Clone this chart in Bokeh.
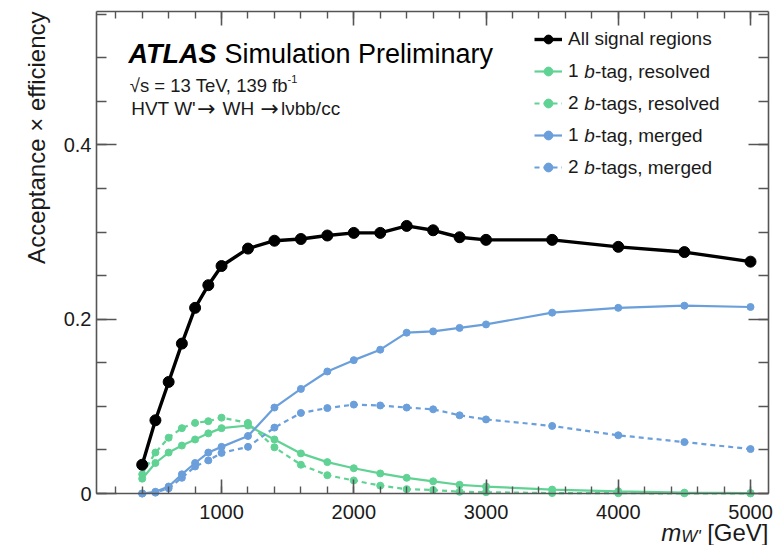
import math

from bokeh.plotting import figure
from bokeh.models import (Range1d, LinearAxis, SingleIntervalTicker, CustomJSTickFormatter,
                          Label, Legend, LegendItem)
from bokeh.embed import file_html
from bokeh.resources import INLINE

# W' mass points [GeV]
mass = [400, 500, 600, 700, 800, 900, 1000, 1200, 1400, 1600, 1800, 2000,
        2200, 2400, 2600, 2800, 3000, 3500, 4000, 4500, 5000]

# acceptance x efficiency per signal region
all_regions = [0.033, 0.084, 0.128, 0.172, 0.213, 0.239, 0.261, 0.281, 0.290, 0.292, 0.296,
               0.299, 0.299, 0.307, 0.302, 0.294, 0.291, 0.291, 0.283, 0.277, 0.266]
one_tag_resolved = [0.017, 0.035, 0.047, 0.055, 0.062, 0.069, 0.075, 0.078, 0.062, 0.046, 0.036,
                    0.029, 0.023, 0.018, 0.014, 0.010, 0.008, 0.0045, 0.0025, 0.001, 0.0005]
two_tag_resolved = [0.022, 0.047, 0.064, 0.075, 0.081, 0.083, 0.087, 0.081, 0.053, 0.033, 0.021,
                    0.015, 0.009, 0.005, 0.004, 0.002, 0.0015, 0.0005, 0.0003, 0.0002, 0.0001]
one_tag_merged = [0.0, 0.002, 0.008, 0.022, 0.035, 0.047, 0.0535, 0.066, 0.0986, 0.120, 0.140,
                  0.153, 0.165, 0.1845, 0.186, 0.190, 0.194, 0.2075, 0.213, 0.2155, 0.214]
two_tag_merged = [0.0, 0.001, 0.006, 0.018, 0.031, 0.038, 0.0466, 0.0535, 0.0756, 0.0924, 0.098,
                  0.102, 0.101, 0.0986, 0.0966, 0.0897, 0.085, 0.0775, 0.0668, 0.059, 0.051]

# axis extents in data units
X_MIN, X_MAX = 54.4, 5136.0
Y_MIN, Y_MAX = 0.0, 0.553

# canvas and the pixel box of the axes inside it
W, H = 775, 545
BOX_L, BOX_R, BOX_T, BOX_B = 96, 768, 11, 493

FONT = "Liberation Sans"
ARROW_FONT = "DejaVu Sans"
GREEN = "#60d394"
BLUE = "#6a9fdb"
AXIS = "#555555"
TEXT = "#1a1a1a"

# the plotting frame spans the whole canvas; axes sit at fixed data locations
xs = (BOX_R - BOX_L) / (X_MAX - X_MIN)
ys = (BOX_B - BOX_T) / (Y_MAX - Y_MIN)
x_range = Range1d(X_MIN - BOX_L / xs, X_MAX + (W - BOX_R) / xs)
y_range = Range1d(Y_MIN - (H - BOX_B) / ys, Y_MAX + BOX_T / ys)

p = figure(width=W, height=H, output_backend="svg", toolbar_location=None,
           x_range=x_range, y_range=y_range, x_axis_type=None, y_axis_type=None,
           min_border=0)
p.outline_line_color = None
p.background_fill_color = "white"
p.border_fill_color = "white"


def axis(kind, location, labelled):
    if kind == "x":
        ticker = SingleIntervalTicker(interval=1000, num_minor_ticks=5)
        fmt = CustomJSTickFormatter(code="return tick.toFixed(0);")
        major, minor = 14, 7
        bounds = (X_MIN, X_MAX)
    else:
        ticker = SingleIntervalTicker(interval=0.2, num_minor_ticks=4)
        fmt = CustomJSTickFormatter(code="return tick == 0 ? '0' : tick.toFixed(1);")
        major, minor = 20, 10
        bounds = (Y_MIN, Y_MAX)
    if not labelled:
        fmt = CustomJSTickFormatter(code="return '';")
    ax = LinearAxis(ticker=ticker, formatter=fmt, fixed_location=location, bounds=bounds,
                    axis_line_color=AXIS, axis_line_width=1.6,
                    major_tick_line_color=AXIS, minor_tick_line_color=AXIS,
                    major_tick_line_width=1.6, minor_tick_line_width=1.4,
                    major_tick_in=major, major_tick_out=0,
                    minor_tick_in=minor, minor_tick_out=0,
                    major_label_text_font=FONT, major_label_text_color=TEXT,
                    major_label_text_font_size="20px",
                    major_label_standoff=(11 if kind == "x" else 5))
    return ax


p.add_layout(axis("x", Y_MIN, True), "below")
p.add_layout(axis("y", X_MIN, True), "left")
p.add_layout(axis("x", Y_MAX, False), "above")
p.add_layout(axis("y", X_MAX, False), "right")

series = [
    ("1 b-tag, resolved", one_tag_resolved, GREEN, "solid"),
    ("2 b-tags, resolved", two_tag_resolved, GREEN, "5 4"),
    ("1 b-tag, merged", one_tag_merged, BLUE, "solid"),
    ("2 b-tags, merged", two_tag_merged, BLUE, "5 4"),
]
renderers = {}
for name, vals, col, dash in series:
    ln = p.line(mass, vals, line_color=col, line_width=2.2, line_dash=dash)
    sc = p.scatter(mass, vals, marker="circle", size=7, fill_color=col, line_color=col)
    renderers[name] = [ln, sc]

bl = p.line(mass, all_regions, line_color="black", line_width=3.4)
bs = p.scatter(mass, all_regions, marker="circle", size=11, fill_color="black", line_color="black")
renderers["All signal regions"] = [bl, bs]


def sy(y_px):
    """canvas pixel row (from top) -> frame screen units (from bottom)"""
    return H - y_px


# legend: the leading word comes from the legend, the rest is added beside it
entries = [("All signal regions", "All signal regions", None),
           ("1 b-tag, resolved", "1", "-tag, resolved"),
           ("2 b-tags, resolved", "2", "-tags, resolved"),
           ("1 b-tag, merged", "1", "-tag, merged"),
           ("2 b-tags, merged", "2", "-tags, merged")]
LEG_X, LEG_TOP, ROW_H, ROW_GAP = 534, 27.5, 22, 10
n_rows = len(entries)
leg_height = n_rows * ROW_H + (n_rows - 1) * ROW_GAP
legend = Legend(items=[LegendItem(label=lead, renderers=renderers[key]) for key, lead, _ in entries],
                location=(LEG_X, sy(LEG_TOP + leg_height)), orientation="vertical",
                glyph_width=28, glyph_height=ROW_H, label_height=ROW_H,
                label_standoff=6, spacing=ROW_GAP, padding=0, margin=0,
                label_text_font=FONT, label_text_font_size="19px", label_text_color=TEXT,
                border_line_alpha=0, background_fill_alpha=0)
p.add_layout(legend)


def label(x, y, text, size, style="normal", align="left", angle=0.0, color=TEXT,
          baseline="alphabetic", font=FONT):
    p.add_layout(Label(x=x, y=y, x_units="screen", y_units="screen", text=text,
                       text_font=font, text_font_size=size, text_font_style=style,
                       text_color=color, text_align=align, text_baseline=baseline,
                       angle=angle))


text_x = LEG_X + 28 + 6
for i, (_, lead, rest) in enumerate(entries):
    if rest is None:
        continue
    cy = sy(LEG_TOP + ROW_H / 2 + i * (ROW_H + ROW_GAP))
    bx = text_x + (0.556 + 0.278) * 19
    label(bx, cy, "b", "19px", style="italic", baseline="middle")
    label(bx + 0.556 * 19, cy, rest, "19px", baseline="middle")

# experiment and process labels
label(128, sy(53.3), "ATLAS", "27px", style="bold italic", color="black")
label(224, sy(53.3), "Simulation Preliminary", "27px", color="black")
label(129.3, sy(85), "\u221as = 13 TeV, 139 fb", "18.5px")
label(287, sy(78), "-1", "11px")
row3 = sy(108.3)
label(130.7, row3, "HVT W'", "19px")
label(196.7, row3, "\u2192", "22px", font=ARROW_FONT)
label(222, row3, "WH", "19px")
label(260, row3, "\u2192", "22px", font=ARROW_FONT)
label(280.5, row3, "l\u03bdbb/cc", "19px")

# axis titles, aligned to the far ends of the axes
label(35.5, sy(BOX_T), "Acceptance \u00d7 efficiency", "24px", align="right", angle=math.pi / 2)
gev_left = BOX_R - 2.557 * 24
label(BOX_R, sy(532), "[GeV]", "24px", align="right")
label(gev_left - 6.5, sy(536), "W'", "17px", style="italic", align="right")
label(gev_left - 6.5 - 1.135 * 17, sy(532), "m", "24px", style="italic", align="right")

open("out.html", "w").write(file_html(p, INLINE))
